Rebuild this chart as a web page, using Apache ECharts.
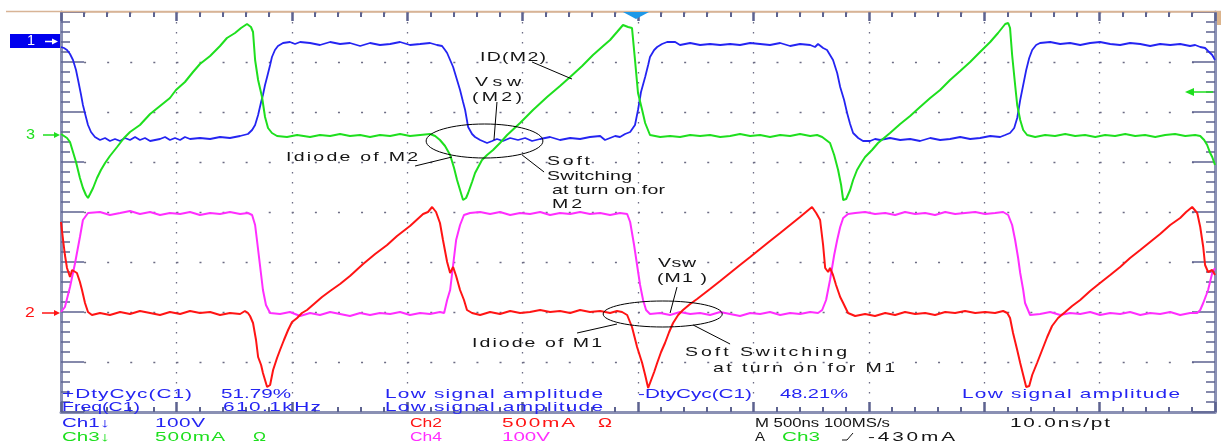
<!DOCTYPE html>
<html><head><meta charset="utf-8">
<script src="https://cdn.jsdelivr.net/npm/echarts/dist/echarts.min.js"></script>
<style>html,body{margin:0;padding:0;background:#fff;}#c{width:1221px;height:447px;}</style>
</head><body><div id="c"></div>
<script>
// ---- axes: time in ns (500 ns/div), vertical in screen divisions ----
const X_MIN = 0, X_MAX = 5000, X_DIV = 500;
const Y_MIN = -4, Y_MAX = 4, Y_DIV = 1;

// ---- Ch1 (blue) : Vsw(M2) ----
const ch1Vsw = [[0,3.30],[13,3.28],[26,3.24],[39,3.16],[52,3.04],[65,2.84],[74,2.64],[87,2.34],[95,2.14],[108,1.90],[117,1.74],[130,1.60],[147,1.50],[169,1.44],[191,1.48],[212,1.42],[234,1.46],[256,1.42],[277,1.48],[299,1.44],[321,1.50],[342,1.44],[364,1.48],[386,1.42],[429,1.46],[451,1.50],[472,1.44],[494,1.48],[516,1.44],[537,1.50],[559,1.46],[602,1.48],[646,1.46],[689,1.50],[732,1.48],[776,1.52],[810,1.56],[828,1.64],[841,1.74],[854,1.94],[867,2.20],[875,2.34],[884,2.54],[893,2.70],[906,2.94],[914,3.10],[927,3.24],[940,3.32],[962,3.38],[992,3.40],[1014,3.36],[1036,3.40],[1079,3.38],[1122,3.34],[1166,3.40],[1209,3.36],[1252,3.38],[1296,3.32],[1339,3.38],[1382,3.34],[1426,3.36],[1469,3.40],[1512,3.34],[1556,3.36],[1599,3.38],[1629,3.34],[1651,3.32],[1664,3.24],[1673,3.18],[1686,3.04],[1699,2.90],[1716,2.64],[1729,2.44],[1742,2.20],[1751,2.04],[1764,1.70],[1781,1.56],[1794,1.50],[1816,1.44],[1846,1.38],[1868,1.42],[1889,1.46],[1915,1.42],[1946,1.48],[1980,1.44],[2011,1.48],[2041,1.42],[2076,1.46],[2119,1.50],[2162,1.44],[2206,1.48],[2249,1.46],[2292,1.50],[2336,1.52],[2357,1.44],[2379,1.48],[2401,1.52],[2422,1.50],[2444,1.56],[2466,1.60],[2487,1.74],[2500,2.04],[2513,2.40],[2531,2.70],[2544,2.94],[2552,3.10],[2570,3.24],[2583,3.30],[2604,3.36],[2626,3.40],[2661,3.40],[2682,3.34],[2704,3.36],[2726,3.38],[2769,3.34],[2812,3.36],[2856,3.34],[2899,3.36],[2942,3.34],[2986,3.38],[3029,3.36],[3072,3.34],[3116,3.38],[3159,3.32],[3202,3.36],[3246,3.34],[3267,3.30],[3280,3.36],[3302,3.28],[3319,3.24],[3332,3.14],[3345,3.04],[3363,2.78],[3376,2.50],[3393,2.24],[3406,1.98],[3419,1.76],[3432,1.58],[3454,1.48],[3475,1.42],[3506,1.42],[3527,1.46],[3549,1.44],[3592,1.48],[3636,1.44],[3679,1.46],[3722,1.42],[3766,1.48],[3809,1.44],[3852,1.46],[3896,1.50],[3939,1.46],[3982,1.48],[4026,1.52],[4069,1.50],[4091,1.54],[4112,1.58],[4130,1.68],[4143,1.88],[4156,2.24],[4169,2.54],[4182,2.84],[4195,3.08],[4208,3.24],[4225,3.34],[4242,3.38],[4286,3.40],[4329,3.36],[4372,3.38],[4416,3.34],[4459,3.38],[4502,3.40],[4546,3.36],[4589,3.34],[4632,3.38],[4676,3.36],[4719,3.32],[4762,3.36],[4806,3.34],[4849,3.36],[4892,3.32],[4914,3.34],[4936,3.30],[4957,3.28],[4970,3.22],[4988,3.14],[5000,3.04]];

// ---- Ch3 (green) : ID(M2) ----
const ch3Id = [[0,1.56],[13,1.52],[26,1.48],[39,1.40],[52,1.20],[65,1.00],[82,0.68],[95,0.48],[108,0.34],[117,0.28],[126,0.36],[139,0.48],[156,0.68],[173,0.84],[191,0.98],[212,1.12],[243,1.30],[273,1.48],[299,1.60],[342,1.74],[386,1.96],[429,2.12],[472,2.28],[498,2.44],[537,2.60],[572,2.80],[602,2.96],[646,3.12],[689,3.32],[719,3.48],[754,3.58],[780,3.68],[806,3.76],[823,3.70],[832,3.60],[841,3.04],[854,2.64],[871,2.30],[884,1.90],[897,1.68],[914,1.58],[936,1.52],[979,1.50],[1023,1.54],[1079,1.50],[1122,1.54],[1166,1.52],[1209,1.56],[1252,1.52],[1296,1.54],[1339,1.50],[1382,1.54],[1426,1.52],[1469,1.56],[1512,1.52],[1556,1.54],[1599,1.56],[1621,1.52],[1642,1.44],[1664,1.32],[1686,1.14],[1703,0.88],[1716,0.64],[1729,0.44],[1742,0.24],[1755,0.28],[1764,0.38],[1781,0.60],[1794,0.78],[1824,1.04],[1846,1.14],[1872,1.24],[1902,1.38],[1933,1.54],[1989,1.78],[2045,2.04],[2106,2.30],[2162,2.52],[2206,2.70],[2258,2.92],[2305,3.14],[2349,3.32],[2379,3.44],[2409,3.60],[2435,3.74],[2457,3.70],[2474,3.68],[2487,3.04],[2500,2.38],[2518,2.04],[2531,1.78],[2552,1.54],[2596,1.50],[2639,1.52],[2682,1.50],[2726,1.54],[2769,1.52],[2812,1.54],[2856,1.50],[2899,1.52],[2942,1.56],[2986,1.52],[3029,1.54],[3072,1.50],[3116,1.54],[3159,1.52],[3202,1.56],[3246,1.52],[3276,1.54],[3298,1.50],[3332,1.38],[3350,1.14],[3367,0.84],[3380,0.54],[3389,0.24],[3402,0.26],[3419,0.44],[3432,0.64],[3449,0.84],[3467,0.98],[3484,1.10],[3514,1.24],[3540,1.38],[3592,1.58],[3636,1.76],[3679,1.92],[3722,2.10],[3766,2.28],[3809,2.44],[3852,2.64],[3896,2.82],[3939,3.00],[3982,3.20],[4026,3.40],[4060,3.58],[4091,3.76],[4104,3.78],[4112,3.68],[4121,3.14],[4134,2.54],[4143,2.14],[4156,1.84],[4169,1.64],[4186,1.54],[4221,1.50],[4264,1.54],[4307,1.52],[4351,1.56],[4394,1.52],[4437,1.54],[4481,1.50],[4524,1.54],[4567,1.52],[4611,1.56],[4654,1.52],[4697,1.54],[4741,1.50],[4784,1.54],[4827,1.56],[4871,1.52],[4914,1.54],[4936,1.52],[4953,1.44],[4966,1.34],[4979,1.18],[4988,1.10],[5000,0.94]];

// ---- Ch2 (red) : ID(M1) ----
const ch2Id = [[0,-0.20],[9,-0.56],[17,-0.86],[26,-1.12],[39,-1.30],[48,-1.16],[56,-1.12],[69,-1.22],[82,-1.40],[91,-1.56],[104,-1.82],[117,-2.00],[134,-2.06],[169,-2.02],[212,-2.06],[256,-2.00],[299,-2.04],[342,-1.98],[386,-2.02],[429,-2.06],[472,-2.00],[516,-2.04],[559,-1.98],[602,-2.02],[646,-2.00],[689,-2.06],[732,-2.02],[776,-2.04],[797,-1.98],[810,-2.02],[819,-2.08],[832,-2.22],[845,-2.56],[854,-2.90],[867,-3.06],[875,-3.22],[884,-3.36],[893,-3.50],[906,-3.46],[919,-3.16],[936,-2.92],[949,-2.76],[966,-2.56],[984,-2.36],[1001,-2.20],[1023,-2.12],[1044,-2.02],[1066,-1.96],[1101,-1.82],[1131,-1.70],[1166,-1.58],[1209,-1.44],[1252,-1.28],[1309,-1.04],[1361,-0.84],[1413,-0.66],[1456,-0.48],[1512,-0.28],[1569,-0.04],[1590,0.00],[1608,0.10],[1625,0.00],[1642,-0.22],[1655,-0.56],[1673,-1.00],[1686,-1.22],[1699,-1.10],[1712,-1.28],[1729,-1.56],[1746,-1.76],[1759,-1.96],[1781,-2.02],[1816,-2.06],[1859,-2.00],[1902,-2.04],[1946,-1.98],[1989,-2.02],[2032,-2.00],[2076,-1.96],[2119,-2.00],[2162,-1.98],[2206,-2.02],[2249,-1.96],[2292,-2.00],[2336,-1.98],[2379,-2.02],[2409,-1.98],[2431,-2.00],[2453,-2.06],[2474,-2.30],[2496,-2.70],[2518,-3.02],[2531,-3.26],[2544,-3.52],[2557,-3.36],[2570,-3.20],[2583,-3.02],[2600,-2.80],[2617,-2.62],[2635,-2.40],[2652,-2.22],[2674,-2.06],[2695,-1.96],[2726,-1.84],[2756,-1.74],[2812,-1.54],[2856,-1.38],[2899,-1.22],[2942,-1.06],[2986,-0.90],[3029,-0.74],[3072,-0.58],[3116,-0.42],[3159,-0.26],[3202,-0.10],[3228,0.00],[3254,0.10],[3272,-0.02],[3289,-0.16],[3302,-0.66],[3311,-1.12],[3324,-1.20],[3332,-1.12],[3345,-1.26],[3358,-1.46],[3376,-1.70],[3389,-1.82],[3410,-2.02],[3441,-2.08],[3484,-2.04],[3527,-2.08],[3571,-2.02],[3614,-2.06],[3657,-2.00],[3701,-2.04],[3744,-2.02],[3787,-2.06],[3831,-2.00],[3874,-2.02],[3917,-1.98],[3961,-2.02],[4004,-2.00],[4047,-2.02],[4082,-1.98],[4100,-2.02],[4112,-2.12],[4125,-2.42],[4143,-2.76],[4156,-3.02],[4169,-3.26],[4182,-3.50],[4195,-3.48],[4208,-3.26],[4229,-3.02],[4251,-2.76],[4273,-2.50],[4294,-2.28],[4320,-2.12],[4351,-2.00],[4381,-1.88],[4416,-1.76],[4459,-1.58],[4502,-1.42],[4546,-1.26],[4589,-1.10],[4632,-0.92],[4676,-0.76],[4719,-0.60],[4762,-0.44],[4806,-0.26],[4849,-0.12],[4875,0.00],[4901,0.10],[4923,-0.02],[4936,-0.30],[4949,-0.70],[4957,-1.06],[4970,-1.20],[4988,-1.16],[5000,-1.26]];

// ---- Ch4 (magenta) : Vsw(M1) ----
const ch4Vsw = [[0,-2.00],[17,-1.90],[39,-1.50],[61,-1.02],[82,-0.50],[95,-0.16],[117,-0.02],[169,0.00],[212,-0.06],[256,-0.02],[299,0.02],[342,-0.04],[386,0.00],[429,-0.06],[472,-0.02],[516,-0.04],[559,0.00],[602,-0.06],[646,-0.02],[689,-0.04],[732,0.00],[776,-0.04],[810,-0.02],[828,-0.06],[841,-0.26],[849,-0.56],[862,-1.06],[875,-1.56],[888,-1.86],[906,-2.02],[949,-2.04],[992,-2.00],[1036,-2.08],[1079,-2.02],[1122,-2.06],[1166,-2.00],[1209,-2.04],[1252,-2.08],[1296,-2.02],[1339,-2.06],[1382,-2.02],[1426,-2.04],[1469,-2.00],[1512,-2.06],[1556,-2.02],[1599,-2.04],[1642,-2.00],[1660,-2.02],[1673,-1.76],[1686,-1.56],[1699,-1.06],[1712,-0.56],[1729,-0.26],[1746,-0.06],[1772,-0.02],[1816,0.00],[1859,-0.04],[1902,0.00],[1946,-0.06],[1989,-0.02],[2032,-0.04],[2076,0.00],[2119,-0.06],[2162,-0.02],[2206,-0.04],[2249,0.00],[2292,-0.04],[2336,-0.02],[2379,-0.06],[2422,-0.02],[2453,-0.04],[2466,-0.20],[2483,-0.66],[2496,-1.06],[2509,-1.46],[2522,-1.76],[2535,-1.96],[2552,-2.04],[2596,-2.02],[2639,-2.06],[2682,-2.00],[2726,-2.04],[2769,-2.02],[2812,-2.06],[2856,-2.00],[2899,-2.04],[2942,-2.08],[2986,-2.02],[3029,-2.04],[3072,-2.00],[3116,-2.06],[3159,-2.02],[3202,-2.04],[3246,-2.00],[3280,-2.02],[3298,-1.96],[3315,-1.76],[3332,-1.36],[3350,-0.86],[3363,-0.56],[3376,-0.30],[3389,-0.12],[3410,-0.04],[3441,-0.02],[3484,0.00],[3527,-0.04],[3571,-0.02],[3614,-0.06],[3657,0.00],[3701,-0.04],[3744,-0.02],[3787,-0.06],[3831,0.00],[3874,-0.04],[3917,-0.02],[3961,0.00],[4004,-0.04],[4047,-0.02],[4082,0.00],[4104,-0.06],[4121,-0.26],[4134,-0.56],[4147,-0.92],[4156,-1.22],[4169,-1.56],[4177,-1.82],[4199,-2.06],[4242,-2.04],[4286,-2.00],[4329,-2.06],[4372,-2.02],[4416,-2.04],[4459,-2.00],[4502,-2.06],[4546,-2.02],[4589,-2.04],[4632,-2.00],[4676,-2.06],[4719,-2.02],[4762,-2.04],[4806,-2.00],[4849,-2.06],[4892,-2.02],[4923,-2.02],[4936,-1.96],[4949,-1.82],[4962,-1.66],[4970,-1.56],[4988,-1.22],[5000,-1.12]];

// ---- annotations, in data units (ns, div) ----
const ellipses = [[1835, 1.42, 253, 0.34], [2607, -2.04, 258, 0.26]]; // cx, cy, rx, ry
const leaders = [[2041,3.00,2214,2.66],[1889,2.20,1876,1.44],[1534,0.92,1694,1.10],[1998,1.14,2093,0.80],[2669,-1.50,2639,-2.02],[2236,-2.42,2409,-2.24],[2739,-2.26,2899,-2.64]];

const BLUE = '#2424f2', GREEN = '#1edf1e', RED = '#ff1414', MAG = '#ff2eff', BLACK = '#141414';

// text: [string, left x, centre y, width, colour]
const annotationTexts = [
  ['ID(M2)', 480, 57, 66], ['Vsw', 475, 82, 46], ['(M2)', 472, 97, 50],
  ['Idiode of M2', 286, 157, 132], ['Soft', 547, 161, 43], ['Switching', 547, 176, 85],
  ['at turn on for', 552, 190, 113], ['M2', 552, 204, 30],
  ['Vsw', 658, 263, 38], ['(M1 )', 657, 278, 50], ['Idiode of M1', 472, 343, 130],
  ['Soft Switching', 685, 352, 162], ['at turn on for M1', 713, 368, 182]
];
const readouts = [
  ['+DtyCyc(C1)', 62, 394, 130, BLUE], ['51.79%', 221, 394, 70, BLUE], ['Low signal amplitude', 385, 394, 218, BLUE],
  ['-DtyCyc(C1)', 638, 394, 114, BLUE], ['48.21%', 780, 394, 68, BLUE], ['Low signal amplitude', 962, 394, 218, BLUE],
  ['Freq(C1)', 62, 407, 78, BLUE], ['610.1kHz', 223, 407, 98, BLUE], ['Low signal amplitude', 385, 407, 218, BLUE],
  ['Ch1\u2193', 62, 423, 48, BLUE], ['100V', 155, 423, 50, BLUE], ['Ch2', 410, 423, 32, RED], ['500mA', 502, 423, 73, RED],
  ['\u03A9', 598, 423, 14, RED], ['M 500ns 100MS/s', 755, 423, 135, BLACK], ['10.0ns/pt', 1010, 423, 100, BLACK],
  ['Ch3\u2193', 62, 437, 48, GREEN], ['500mA', 155, 437, 70, GREEN], ['\u03A9', 253, 437, 13, GREEN],
  ['Ch4', 410, 437, 32, MAG], ['100V', 502, 437, 48, MAG], ['A', 755, 437, 10, BLACK], ['Ch3', 782, 437, 38, GREEN],
  ['-430mA', 868, 437, 87, BLACK]
];

const FONT_FAMILY = '"Liberation Sans", Arial, "DejaVu Sans", sans-serif';
const mctx = document.createElement('canvas').getContext('2d');
function spaced(str, x, y, w, color, size, sx, z) {
  mctx.font = size + 'px ' + FONT_FAMILY;
  const chars = Array.from(str);
  const raw = chars.map(c => mctx.measureText(c).width);
  const rawSum = raw.reduce((a, b) => a + b, 0);
  const s = Math.min(sx, w / rawSum);
  const ws = raw.map(v => v * s);
  const nat = ws.reduce((a, b) => a + b, 0);
  const gap = chars.length > 1 ? (w - nat) / (chars.length - 1) : 0;
  const out = [];
  let cx = x;
  chars.forEach((c, i) => {
    if (c !== ' ') out.push({
      type: 'text', x: cx, y: y, scaleX: s, silent: true, z: z || 50,
      style: { text: c, x: 0, y: 0, fill: color, font: size + 'px ' + FONT_FAMILY,
               align: 'left', verticalAlign: 'middle', textAlign: 'left', textVerticalAlign: 'middle' }
    });
    cx += ws[i] + gap;
  });
  return out;
}

const FRAME = '#8a90b4', TICK = '#5d6390', DOT = '#6c6c84';
const chart = echarts.init(document.getElementById('c'), null, { renderer: 'canvas' });

function xAxisCfg(pos, split) {
  return {
    type: 'value', position: pos, min: X_MIN, max: X_MAX, interval: X_DIV,
    axisLine: { show: true, onZero: false, lineStyle: { color: pos === 'top' ? '#d8b496' : FRAME, width: pos === 'top' ? 1.5 : 3 } },
    axisTick: { show: true, inside: true, length: pos === 'top' ? 9 : 10, lineStyle: { color: TICK, width: 2.5 } },
    minorTick: { show: true, splitNumber: 5, length: 5, lineStyle: { color: TICK, width: 2 } },
    axisLabel: { show: false },
    splitLine: { show: split, lineStyle: { color: DOT, width: 1.3, type: [1.6, 8.4] } }
  };
}
function yAxisCfg(pos, split) {
  return {
    type: 'value', position: pos, min: Y_MIN, max: Y_MAX, interval: Y_DIV,
    axisLine: { show: true, onZero: false, lineStyle: { color: FRAME, width: 3 } },
    axisTick: { show: true, inside: true, length: 23, lineStyle: { color: TICK, width: 1.5 } },
    minorTick: { show: true, splitNumber: 5, length: 9, lineStyle: { color: TICK, width: 1.5 } },
    axisLabel: { show: false },
    splitLine: { show: split, lineStyle: { color: DOT, width: 1.3, type: [2, 21.08] } }
  };
}
function trace(name, data, color, w) {
  return { name, type: 'line', data, showSymbol: false, symbol: 'none', smooth: false,
           lineStyle: { color, width: w }, itemStyle: { color }, z: 5, silent: true };
}

chart.setOption({
  animation: false,
  backgroundColor: '#ffffff',
  grid: { left: 61, right: 6, top: 12, bottom: 35, containLabel: false, outerBoundsMode: 'none' },
  xAxis: [xAxisCfg('bottom', true), xAxisCfg('top', false)],
  yAxis: [yAxisCfg('left', true), yAxisCfg('right', false)],
  series: [
    trace('Ch4', ch4Vsw, MAG, 2),
    trace('Ch2', ch2Id, RED, 2),
    trace('Ch1', ch1Vsw, BLUE, 1.8),
    trace('Ch3', ch3Id, GREEN, 2)
  ]
});

const P = (x, y) => chart.convertToPixel({ xAxisIndex: 0, yAxisIndex: 0 }, [x, y]);
const g = [];
// annotations
ellipses.forEach(e => {
  const c = P(e[0], e[1]), r = P(e[0] + e[2], e[1] + e[3]);
  g.push({ type: 'ellipse', silent: true, z: 40, shape: { cx: c[0], cy: c[1], rx: Math.abs(r[0] - c[0]), ry: Math.abs(r[1] - c[1]) },
           style: { fill: 'none', stroke: '#000', lineWidth: 1 } });
});
leaders.forEach(l => {
  const a = P(l[0], l[1]), b = P(l[2], l[3]);
  g.push({ type: 'line', silent: true, z: 40, shape: { x1: a[0], y1: a[1], x2: b[0], y2: b[1] }, style: { stroke: '#000', lineWidth: 1 } });
});
annotationTexts.forEach(t => g.push(...spaced(t[0], t[1], t[2], t[3], BLACK, 13, 1.5)));
readouts.forEach(t => g.push(...spaced(t[0], t[1], t[2], t[3], t[4], 13, 1.6)));

// rising-edge trigger symbol
g.push({ type: 'polyline', silent: true, z: 50, shape: { points: [[842, 440], [847, 440], [853, 433]] }, style: { stroke: BLACK, lineWidth: 1, fill: 'none' } });

// top frame line & decorations
g.push({ type: 'line', silent: true, z: 30, shape: { x1: 6, y1: 11.5, x2: 1221, y2: 11.5 }, style: { stroke: '#d8b496', lineWidth: 1.5 } });
g.push({ type: 'rect', silent: true, z: 30, shape: { x: 1217, y: 12, width: 4, height: 13 }, style: { fill: '#dcb48c' } });
g.push({ type: 'polygon', silent: true, z: 60, shape: { points: [[623, 12], [649, 12], [636, 19]] }, style: { fill: '#1e98e8' } });

// channel reference markers
g.push({ type: 'rect', silent: true, z: 60, shape: { x: 10, y: 34, width: 50, height: 14 }, style: { fill: '#0000ee' } });
g.push(...spaced('1', 27, 41.5, 8, '#ffffff', 14, 1.1, 70));
function arrowRight(x1, x2, y, col) {
  g.push({ type: 'line', silent: true, z: 71, shape: { x1: x1, y1: y, x2: x2 - 4, y2: y }, style: { stroke: col, lineWidth: 1.5 } });
  g.push({ type: 'polygon', silent: true, z: 71, shape: { points: [[x2 - 6, y - 3], [x2, y], [x2 - 6, y + 3]] }, style: { fill: col } });
}
arrowRight(45, 58, 41.5, '#ffffff');
g.push(...spaced('3', 26, 135, 9, GREEN, 14, 1.2, 70));
arrowRight(43, 60, 135, GREEN);
g.push(...spaced('2', 25, 313, 10, RED, 14, 1.25, 70));
arrowRight(42, 60, 313, RED);
// trigger level arrow (right, green, pointing left)
g.push({ type: 'line', silent: true, z: 61, shape: { x1: 1191, y1: 92, x2: 1213, y2: 92 }, style: { stroke: GREEN, lineWidth: 1.5 } });
g.push({ type: 'polygon', silent: true, z: 61, shape: { points: [[1194, 88], [1185, 92], [1194, 96]] }, style: { fill: GREEN } });

chart.setOption({ graphic: { elements: g } });
</script>
</body></html>
